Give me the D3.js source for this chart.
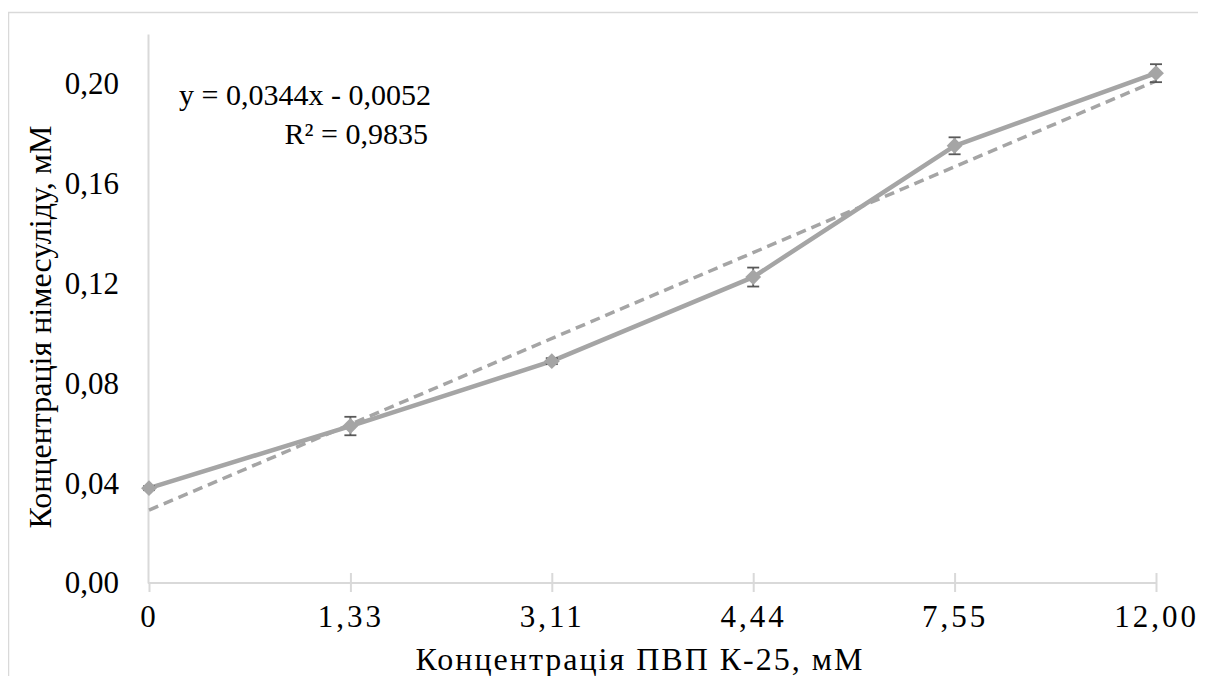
<!DOCTYPE html>
<html><head><meta charset="utf-8">
<script src="https://cdn.jsdelivr.net/npm/d3@7"></script>
</head><body>
<script>
const categories = ["0", "1,33", "3,11", "4,44", "7,55", "12,00"];
const values = [0.038, 0.0629, 0.0889, 0.1226, 0.1752, 0.2043];
const errors = [0.0008, 0.0037, 0.0012, 0.0038, 0.0034, 0.0036];
const yTicks = [0, 0.04, 0.08, 0.12, 0.16, 0.20];
const trendSlope = 0.0344, trendIntercept = -0.0052;
const eqLines = ["y = 0,0344x - 0,0052", "R² = 0,9835"];
const xTitle = "Концентрація ПВП К-25, мМ";
const yTitle = "Концентрація німесуліду, мМ";

const FONT = "Liberation Serif";
const root = d3.select("body").append("svg").attr("width", 1198).attr("height", 664)
  .attr("overflow", "visible");
const svg = root.append("g").attr("transform", "translate(-8,-8)");

svg.append("rect").attr("x", 8.5).attr("y", 12.5).attr("width", 1210).attr("height", 700)
  .attr("fill", "none").attr("stroke", "#d9d9d9").attr("stroke-width", 1.5);

const x = d3.scalePoint().domain(categories).range([149, 1156]);
const y = d3.scaleLinear().domain([0, 0.22]).range([583, 34]);

// y axis
const yAxis = svg.append("g").attr("transform", "translate(148,0)")
  .call(d3.axisLeft(y).tickValues(yTicks).tickSize(0).tickPadding(29)
    .tickFormat(d => d3.format(".2f")(d).replace(".", ",")));
yAxis.select(".domain").attr("stroke", "#d9d9d9").attr("stroke-width", 2);
yAxis.selectAll("text").attr("font-family", FONT).attr("font-size", 31).attr("fill", "#000");

// x axis
const xAxis = svg.append("g").attr("transform", "translate(0,583)")
  .call(d3.axisBottom(x).tickSize(9).tickPadding(13));
xAxis.select(".domain").attr("stroke", "#d9d9d9").attr("stroke-width", 2).attr("d", "M148,0H1157");
xAxis.selectAll(".tick line").attr("stroke", "#d9d9d9").attr("stroke-width", 2).attr("y1", d => d === categories[0] ? 0 : -10);
xAxis.selectAll("text").attr("font-family", FONT).attr("font-size", 31).attr("fill", "#000").attr("letter-spacing", 3);

// trendline
svg.append("path").datum([1, categories.length])
  .attr("d", d3.line().x(d => x(categories[d - 1])).y(d => y(trendSlope * d + trendIntercept)))
  .attr("fill", "none").attr("stroke", "#a5a5a5").attr("stroke-width", 3.5).attr("stroke-dasharray", "10,6");

// series line
svg.append("path").datum(values)
  .attr("d", d3.line().x((d, i) => x(categories[i])).y(d => y(d)))
  .attr("fill", "none").attr("stroke", "#a5a5a5").attr("stroke-width", 4.5).attr("stroke-linejoin", "round");

// error bars
const eb = svg.append("g").attr("stroke", "#595959").attr("stroke-width", 1.8);
values.forEach((v, i) => {
  const cx = x(categories[i]);
  eb.append("line").attr("x1", cx).attr("x2", cx).attr("y1", y(v - errors[i])).attr("y2", y(v + errors[i]));
  [v - errors[i], v + errors[i]].forEach(e => eb.append("line")
    .attr("x1", cx - 6).attr("x2", cx + 6).attr("y1", y(e)).attr("y2", y(e)));
});

// markers
svg.selectAll(".mk").data(values).enter().append("path")
  .attr("transform", (d, i) => `translate(${x(categories[i])},${y(d)})`)
  .attr("d", d3.symbol().type(d3.symbolDiamond2).size(160))
  .attr("fill", "#a5a5a5");

// equation
svg.append("text").attr("x", 431).attr("y", 105).attr("text-anchor", "end")
  .attr("font-family", FONT).attr("font-size", 30).text(eqLines[0]);
svg.append("text").attr("x", 428).attr("y", 144).attr("text-anchor", "end")
  .attr("font-family", FONT).attr("font-size", 30).text(eqLines[1]);

// titles
svg.append("text").attr("x", 640).attr("y", 670).attr("text-anchor", "middle")
  .attr("font-family", FONT).attr("font-size", 32).attr("letter-spacing", 2).text(xTitle);
svg.append("text").attr("transform", "translate(51,327) rotate(-90)").attr("text-anchor", "middle")
  .attr("font-family", FONT).attr("font-size", 32).text(yTitle);
</script>
</body></html>
